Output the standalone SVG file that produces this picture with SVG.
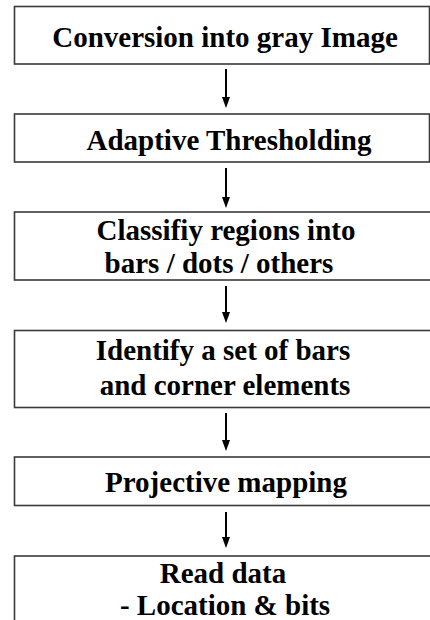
<svg xmlns="http://www.w3.org/2000/svg" width="430" height="620" viewBox="0 0 430 620">
<style>
.box{fill:#fff;stroke:#3a3a3a;stroke-width:1.6}
.arr{stroke:#000;stroke-width:2;fill:none}
.t{font-family:"Liberation Serif","Times New Roman",serif;font-size:29px;font-weight:bold;fill:#000;text-anchor:middle}
</style>
<rect width="430" height="620" fill="#fff"/>
<g id="connectors">
<line class="arr" x1="226" y1="69" x2="226" y2="98"/><path d="M222,97 L230,97 L226,108 Z"/>
<line class="arr" x1="226" y1="168" x2="226" y2="198"/><path d="M222,197 L230,197 L226,208 Z"/>
<line class="arr" x1="226" y1="286" x2="226" y2="313"/><path d="M222,312 L230,312 L226,323 Z"/>
<line class="arr" x1="226" y1="413" x2="226" y2="441"/><path d="M222,440 L230,440 L226,451 Z"/>
<line class="arr" x1="226" y1="512" x2="226" y2="538"/><path d="M222,537 L230,537 L226,548 Z"/>
</g>
<g id="n1"><rect class="box" x="14.5" y="6.5" width="415" height="57.5"/><text class="t" x="225" y="47">Conversion into gray Image</text></g>
<g id="n2"><rect class="box" x="14.5" y="114" width="415" height="48"/><text class="t" x="229" y="150">Adaptive Thresholding</text></g>
<g id="n3"><rect class="box" x="14.5" y="212" width="420" height="68"/><text class="t" x="226" y="240">Classifiy regions into</text><text class="t" x="219" y="272.5">bars / dots / others</text></g>
<g id="n4"><rect class="box" x="14.5" y="330.5" width="420" height="77"/><text class="t" x="223" y="360">Identify a set of bars</text><text class="t" x="225" y="395">and corner elements</text></g>
<g id="n5"><rect class="box" x="14.5" y="457" width="420" height="48.5"/><text class="t" x="226" y="491.5">Projective mapping</text></g>
<g id="n6"><rect class="box" x="14.5" y="556" width="420" height="70"/><text class="t" x="223" y="582.5">Read data</text><text class="t" x="225" y="615">- Location &amp; bits</text></g>
</svg>
